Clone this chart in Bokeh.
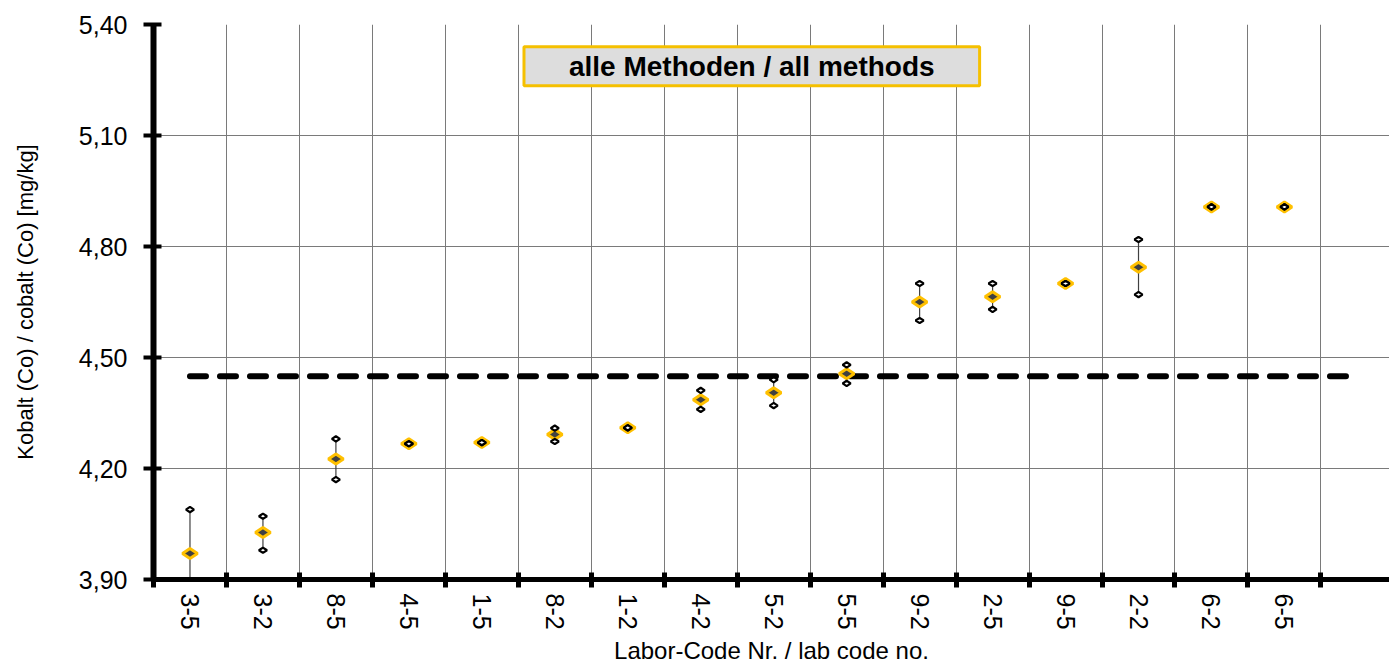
import math
from bokeh.plotting import figure
from bokeh.models import (ColumnDataSource, FixedTicker, CustomJSTickFormatter,
                          Range1d, Label)
from bokeh.embed import file_html
from bokeh.resources import INLINE

# ---- data ----
labs = ["3-5", "3-2", "8-5", "4-5", "1-5", "8-2", "1-2", "4-2",
        "5-2", "5-5", "9-2", "2-5", "9-5", "2-2", "6-2", "6-5"]
means = [3.970, 4.027, 4.226, 4.267, 4.270, 4.292, 4.310, 4.386,
         4.405, 4.456, 4.650, 4.664, 4.700, 4.744, 4.907, 4.907]
mins = [3.851, 3.979, 4.170, 4.267, 4.270, 4.273, 4.310, 4.360,
        4.370, 4.430, 4.600, 4.630, 4.700, 4.670, 4.907, 4.907]
maxs = [4.089, 4.071, 4.280, 4.267, 4.270, 4.309, 4.310, 4.411,
        4.440, 4.480, 4.700, 4.700, 4.700, 4.819, 4.907, 4.907]
assigned_value = 4.449
y_ticks = [3.90, 4.20, 4.50, 4.80, 5.10, 5.40]
title_text = "alle Methoden / all methods"
x_title = "Labor-Code Nr. / lab code no."
y_title = "Kobalt (Co) / cobalt (Co) [mg/kg]"

n = len(labs)
xs = list(range(1, n + 1))
boundaries = [i + 0.5 for i in range(0, n + 1)]

src = ColumnDataSource(dict(x=xs, lab=labs, mean=means, lo=mins, hi=maxs))

FONT = "Liberation Sans"

p = figure(width=1389, height=666,
           x_range=Range1d(0.5, 17.44), y_range=Range1d(y_ticks[0], y_ticks[-1]),
           output_backend="svg", toolbar_location=None,
           min_border_left=153, min_border_right=0,
           min_border_top=24, min_border_bottom=86)
p.outline_line_color = None
p.background_fill_color = "white"
p.border_fill_color = "white"

# grids
p.xgrid.ticker = FixedTicker(ticks=boundaries)
p.ygrid.ticker = FixedTicker(ticks=y_ticks)
for g in (p.xgrid, p.ygrid):
    g.grid_line_color = "#7a7a7a"
    g.grid_line_width = 1

# x axis
xa = p.xaxis[0]
xa.ticker = FixedTicker(ticks=xs, minor_ticks=boundaries)
xa.major_label_overrides = {x: l for x, l in zip(xs, labs)}
xa.major_tick_line_color = None
xa.minor_tick_line_color = "black"
xa.minor_tick_in = 7
xa.minor_tick_out = 8
xa.minor_tick_line_width = 5
xa.axis_line_width = 5
xa.axis_line_color = "black"
xa.major_label_orientation = -math.pi / 2
xa.major_label_text_font = FONT
xa.major_label_text_font_size = "25px"
xa.major_label_text_color = "black"
xa.major_label_standoff = 6
xa.axis_label = x_title
xa.axis_label_text_font = FONT
xa.axis_label_text_font_size = "24px"
xa.axis_label_text_font_style = "normal"
xa.axis_label_text_color = "black"
xa.axis_label_standoff = 4

# y axis
ya = p.yaxis[0]
ya.ticker = FixedTicker(ticks=y_ticks, minor_ticks=[])
ya.formatter = CustomJSTickFormatter(code="return tick.toFixed(2).replace('.', ',');")
ya.axis_line_width = 6
ya.axis_line_color = "black"
ya.major_tick_in = 8
ya.major_tick_out = 10
ya.major_tick_line_width = 4
ya.major_tick_line_color = "black"
ya.minor_tick_line_color = None
ya.major_label_text_font = FONT
ya.major_label_text_font_size = "25px"
ya.major_label_text_color = "black"
ya.major_label_standoff = 16
ya.axis_label = y_title
ya.axis_label_text_font = FONT
ya.axis_label_text_font_size = "22px"
ya.axis_label_text_font_style = "normal"
ya.axis_label_text_color = "black"
ya.axis_label_standoff = 38

# assigned value dashed line
p.line(x=[xs[0], n + 1], y=[assigned_value, assigned_value],
       line_color="black", line_width=6, line_dash="16 14", line_cap="round")

# whiskers
p.segment(x0="x", y0="lo", x1="x", y1="hi", source=src,
          line_color="#404040", line_width=1.2)

# mean markers
p.scatter("x", "mean", source=src, marker="diamond", angle=math.pi / 2,
          size=15, fill_color="#404040", line_color="#FFC000", line_width=3)

# min / max markers
for col in ("lo", "hi"):
    p.scatter("x", col, source=src, marker="diamond", angle=math.pi / 2,
              size=8, fill_color="white", line_color="black", line_width=2.2)

# title box
p.add_layout(Label(x=8.70, y=5.287, text=title_text,
                   text_font=FONT, text_font_style="bold", text_font_size="28px",
                   text_color="black", text_align="center", text_baseline="middle",
                   background_fill_color="#DDDDDD", border_line_color="#F5C000",
                   border_line_width=3, padding=(45, 4)))

open("out.html", "w").write(file_html(p, INLINE))
